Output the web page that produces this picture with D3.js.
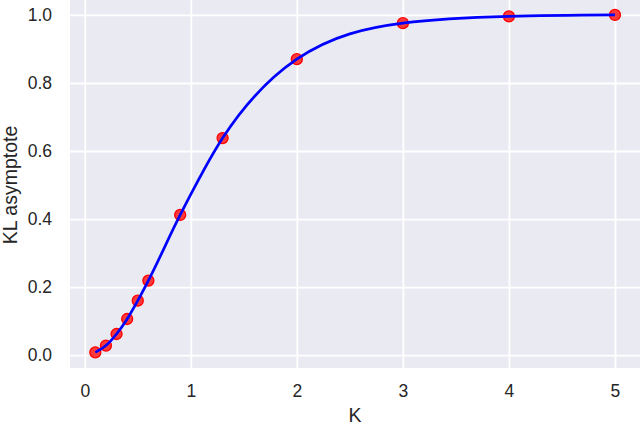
<!DOCTYPE html>
<html>
<head>
<meta charset="utf-8">
<script src="https://cdn.jsdelivr.net/npm/d3@7"></script>
<style>
  body { margin: 0; background: #fff; }
  svg { display: block; font-family: "Liberation Sans", Arial, sans-serif; }
</style>
</head>
<body>
<div id="chart"></div>
<script>
// values
var kValues = [0.1, 0.2, 0.3, 0.4, 0.5, 0.6, 0.9, 1.3, 2, 3, 4, 5];
var asymptote = [0.008, 0.028, 0.062, 0.106, 0.160, 0.219, 0.412, 0.638, 0.870, 0.976, 0.996, 1.0];
var xTicks = [0, 1, 2, 3, 4, 5];
var yTicks = [0.0, 0.2, 0.4, 0.6, 0.8, 1.0];

var w = 640, h = 425;
var margin = {left: 70, top: 0, right: 0, bottom: 57};

var svg = d3.select("#chart").append("svg").attr("width", w).attr("height", h);

var xScale = d3.scaleLinear().domain([-0.139, 5.236]).range([margin.left, w - margin.right]);
var yScale = d3.scaleLinear().domain([-0.038, 1.044]).range([h - margin.bottom, margin.top]);

// background
svg.append("rect")
    .attr("x", margin.left).attr("y", margin.top)
    .attr("width", w - margin.left - margin.right)
    .attr("height", h - margin.top - margin.bottom)
    .attr("fill", "#eaeaf2");

// grid via axes with no domain line
var xGrid = d3.axisBottom(xScale).tickValues(xTicks).tickSize(-(h - margin.top - margin.bottom)).tickFormat("");
var yGrid = d3.axisLeft(yScale).tickValues(yTicks).tickSize(-(w - margin.left - margin.right)).tickFormat("");

svg.append("g").attr("transform", "translate(0," + (h - margin.bottom) + ")").call(xGrid)
    .call(function(g){ g.select(".domain").remove(); g.selectAll("line").attr("stroke", "#fff").attr("stroke-width", 1.8); });
svg.append("g").attr("transform", "translate(" + margin.left + ",0)").call(yGrid)
    .call(function(g){ g.select(".domain").remove(); g.selectAll("line").attr("stroke", "#fff").attr("stroke-width", 1.8); });

// tick labels
var xAxis = d3.axisBottom(xScale).tickValues(xTicks).tickSize(0).tickPadding(17).tickFormat(d3.format("d"));
var yAxis = d3.axisLeft(yScale).tickValues(yTicks).tickSize(0).tickPadding(18).tickFormat(d3.format(".1f"));

svg.append("g").attr("transform", "translate(0," + (h - margin.bottom) + ")").call(xAxis)
    .call(function(g){ g.select(".domain").remove(); g.selectAll("text").attr("fill", "#262626").style("font-size", "17.5px").style("font-family", "Liberation Sans, Arial, sans-serif"); });
svg.append("g").attr("transform", "translate(" + margin.left + ",0)").call(yAxis)
    .call(function(g){ g.select(".domain").remove(); g.selectAll("text").attr("fill", "#262626").style("font-size", "17.5px").style("font-family", "Liberation Sans, Arial, sans-serif"); });

// axis titles
svg.append("text")
    .attr("x", (margin.left + w - margin.right) / 2)
    .attr("y", 422)
    .attr("text-anchor", "middle")
    .attr("fill", "#262626")
    .style("font-size", "19.5px")
    .text("K");

svg.append("text")
    .attr("transform", "translate(17," + ((margin.top + h - margin.bottom) / 2 + 1) + ") rotate(-90)")
    .attr("text-anchor", "middle")
    .attr("fill", "#262626")
    .style("font-size", "19.5px")
    .text("KL asymptote");

var data = kValues.map(function(k, i){ return {k: k, v: asymptote[i]}; });

// markers
svg.append("g").selectAll("circle")
    .data(data)
    .enter()
    .append("circle")
    .attr("cx", function(d){ return xScale(d.k); })
    .attr("cy", function(d){ return yScale(d.v); })
    .attr("r", 5.5)
    .attr("fill", "#ff1a1a")
    .attr("fill-opacity", 0.85)
    .attr("stroke", "#ff0000")
    .attr("stroke-width", 1.3);

// fitted curve
var line = d3.line()
    .x(function(d){ return xScale(d.k); })
    .y(function(d){ return yScale(d.v); })
    .curve(d3.curveMonotoneX);

svg.append("path")
    .datum(data)
    .attr("d", line)
    .attr("fill", "none")
    .attr("stroke", "#0000ff")
    .attr("stroke-width", 2.7);
</script>
</body>
</html>
